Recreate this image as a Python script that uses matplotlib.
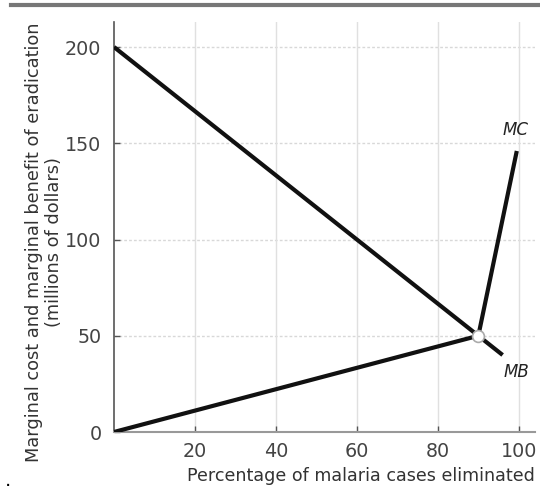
import matplotlib
matplotlib.use("Agg")
import matplotlib.pyplot as plt
from matplotlib.lines import Line2D

# Data
mb_x = [0, 96]
mb_y = [200, 40]
mc_x = [0, 90, 99.5]
mc_y = [0, 50, 146]
eq_x = [90]
eq_y = [50]
xticks = [20, 40, 60, 80, 100]
yticks = [0, 50, 100, 150, 200]

plt.rcParams['font.family'] = ['DejaVu Sans']

W, H = 540, 492
fig = plt.figure(figsize=(5.4, 4.92), dpi=100)
ax = fig.add_axes([114/W, 60/H, (535-114)/W, (432-22)/H])

ax.set_xlim(0, 104)
ax.set_ylim(0, 213)

for v in [50, 100, 150, 200]:
    ax.axhline(v, color='#d8d8d8', lw=1, ls=(0, (2, 1.5)), zorder=0)
for v in xticks:
    ax.axvline(v, color='#e0e0e0', lw=1, ls='-', zorder=0)

ax.plot(mb_x, mb_y, color='#111111', lw=3, solid_capstyle='butt', zorder=3)
ax.plot(mc_x, mc_y, color='#111111', lw=3, solid_capstyle='butt', zorder=3)
ax.plot(eq_x, eq_y, marker='o', ms=8.5, mfc='white', mec='#aaaaaa', mew=1.2,
        ls='none', zorder=4)

ax.text(99.3, 152, 'MC', style='italic', fontsize=12, color='#222222',
        ha='center', va='bottom')
ax.text(99.5, 31, 'MB', style='italic', fontsize=12, color='#222222',
        ha='center', va='center')

ax.set_xticks(xticks)
ax.set_yticks(yticks)
ax.set_xticklabels([str(t) for t in xticks])
ax.set_yticklabels([str(t) for t in yticks])
ax.tick_params(direction='in', length=4, width=1, colors='#555555',
               labelcolor='#444444', labelsize=13.8)
ax.tick_params(axis='y', pad=9)
ax.tick_params(axis='x', pad=7)

for s in ['top', 'right']:
    ax.spines[s].set_visible(False)
ax.spines['left'].set_color('#555555')
ax.spines['bottom'].set_color('#999999')
ax.spines['left'].set_linewidth(1.2)
ax.spines['bottom'].set_linewidth(1.5)

fig.text(535/W, 1-476/H, 'Percentage of malaria cases eliminated', fontsize=12.6,
         color='#333333', ha='right', va='center')
fig.text(44/W, 1-242/H,
         'Marginal cost and marginal benefit of eradication\n(millions of dollars)',
         fontsize=12.8, color='#333333', rotation=90, ha='center', va='center',
         multialignment='center', linespacing=1.1)

fig.add_artist(Line2D([11/W, 1.0], [1-5/H, 1-5/H], color='#777777', lw=3,
                      transform=fig.transFigure))
fig.text(5/W, 1-480/H, '.', fontsize=14, color='black', ha='left', va='center')

fig.savefig('out.png', dpi=100)
